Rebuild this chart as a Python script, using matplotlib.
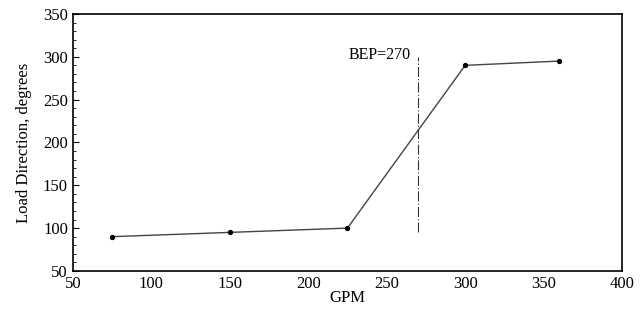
import numpy as np
import matplotlib
matplotlib.use("Agg")
import matplotlib.pyplot as plt
from matplotlib.ticker import MultipleLocator

gpm = [75, 150, 225, 300, 360]
load_dir = [90, 95, 100, 290, 295]
bep_gpm = 270
bep_range = [95, 300]
bep_label = "BEP=270"

plt.rcParams['font.family'] = ['Liberation Serif', 'DejaVu Serif']

fig = plt.figure(figsize=(6.44, 3.10), dpi=100)
ax = fig.add_axes([0.113, 0.126, 0.853, 0.829])

ax.plot(gpm, load_dir, color='#444444', lw=1.0, marker='o', ms=2.8,
        mfc='black', mec='black')
ax.plot([bep_gpm, bep_gpm], bep_range, color='#333333', lw=0.8,
        dashes=(9, 2, 1, 2))
ax.text(bep_gpm - 5, 302, bep_label, ha='right', va='center', fontsize=11.5)

ax.set_xlim(50, 400)
ax.set_ylim(50, 350)
ax.xaxis.set_major_locator(MultipleLocator(50))
ax.yaxis.set_major_locator(MultipleLocator(50))
ax.yaxis.set_minor_locator(MultipleLocator(10))
ax.tick_params(which='both', direction='in', labelsize=12, top=False, right=False)
ax.tick_params(which='major', length=4)
ax.tick_params(which='minor', length=2)
ax.tick_params(axis='x', which='both', length=0, pad=4)
for s in ax.spines.values():
    s.set_linewidth(1.2)

ax.set_xlabel("GPM", fontsize=12, labelpad=-2)
ax.set_ylabel("Load Direction, degrees", fontsize=12, labelpad=8)

fig.savefig("out.png", dpi=100)
